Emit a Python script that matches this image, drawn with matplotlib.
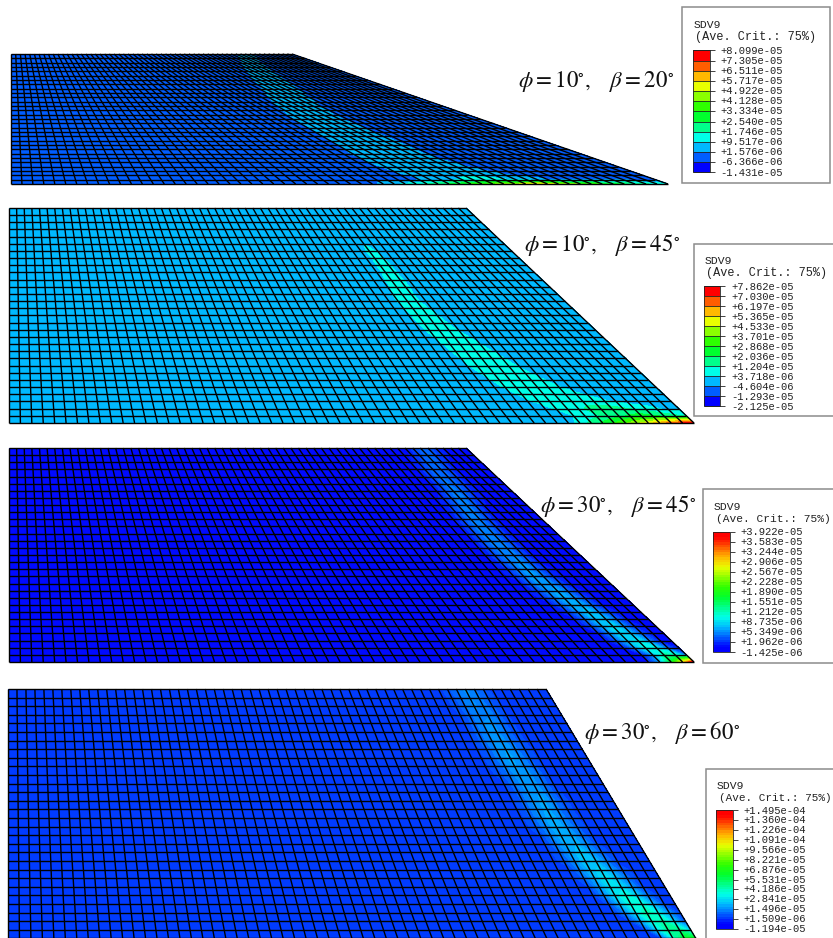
import numpy as np
import matplotlib
matplotlib.use("Agg")
import matplotlib.pyplot as plt
from matplotlib.colors import LinearSegmentedColormap, ListedColormap, BoundaryNorm
from matplotlib.collections import LineCollection
from matplotlib.patches import Rectangle

W, H = 833, 938
N_COL, N_ROW = 60, 30

contour_colors = ["#0000ff", "#005dff", "#00b9ff", "#00ffe8", "#00ff8b", "#00ff2e",
                  "#2eff00", "#8bff00", "#e8ff00", "#ffb900", "#ff5d00", "#ff0000"]

labels_1 = ["+8.099e-05", "+7.305e-05", "+6.511e-05", "+5.717e-05", "+4.922e-05", "+4.128e-05", "+3.334e-05",
            "+2.540e-05", "+1.746e-05", "+9.517e-06", "+1.576e-06", "-6.366e-06", "-1.431e-05"]
labels_2 = ["+7.862e-05", "+7.030e-05", "+6.197e-05", "+5.365e-05", "+4.533e-05", "+3.701e-05", "+2.868e-05",
            "+2.036e-05", "+1.204e-05", "+3.718e-06", "-4.604e-06", "-1.293e-05", "-2.125e-05"]
labels_3 = ["+3.922e-05", "+3.583e-05", "+3.244e-05", "+2.906e-05", "+2.567e-05", "+2.228e-05", "+1.890e-05",
            "+1.551e-05", "+1.212e-05", "+8.735e-06", "+5.349e-06", "+1.962e-06", "-1.425e-06"]
labels_4 = ["+1.495e-04", "+1.360e-04", "+1.226e-04", "+1.091e-04", "+9.566e-05", "+8.221e-05", "+6.876e-05",
            "+5.531e-05", "+4.186e-05", "+2.841e-05", "+1.496e-05", "+1.509e-06", "-1.194e-05"]

# Shear band read per mesh node row (top to bottom): column of the centre, half width in columns, peak SDV9
center_1 = [50, 48.5, 47, 46, 45, 44.2, 43.5, 43, 42.3, 41.6, 41, 40.5, 40, 39.7, 39.4, 39.4,
            39.4, 39.5, 39.6, 39.8, 39.8, 39.8, 39.8, 39.7, 40, 40.4, 40.9, 41.6, 42.6, 44.3, 48]
halfw_1 = [2.3, 2.4, 2.6, 2.8, 3, 3.2, 3.4, 3.5, 3.6, 3.7, 3.8, 3.8, 3.8, 3.8, 3.8, 3.9,
           4, 4.1, 4.3, 4.5, 4.6, 4.7, 4.8, 5, 5, 5.2, 5.4, 5.5, 5.8, 6.5, 15]
peak_1 = [5e-6, 5e-6, 5e-6, 5.5e-6, 5.5e-6, 6e-6, 6e-6, 6e-6, 6.5e-6, 6.5e-6, 7e-6, 7e-6, 7e-6, 7e-6, 7e-6, 7e-6,
          7e-6, 7e-6, 7e-6, 7e-6, 7e-6, 7e-6, 7e-6, 7e-6, 7.5e-6, 7.5e-6, 8e-6, 9e-6, 1e-5, 1.5e-5, 5.5e-5]

center_2 = [43, 43, 43, 43, 43, 43.5, 43.3, 43.4, 43.4, 43.4, 43.3, 43.4, 43.1, 43.1, 43.4, 43.7,
            43.9, 44.2, 44.7, 45.2, 45.6, 46.1, 46.5, 47.1, 47.8, 48.5, 49.6, 51, 53.5, 56, 60]
halfw_2 = [0, 0, 0, 0, 0, 1, 1.1, 1.2, 1.3, 1.4, 1.6, 1.7, 1.8, 1.9, 2, 2.2,
           2.4, 2.6, 2.8, 3, 3.2, 3.4, 3.6, 3.8, 4, 4.2, 4.6, 5.2, 6, 7, 11]
peak_2 = [0, 0, 0, 0, 0, 7e-6, 8e-6, 8e-6, 9e-6, 9e-6, 1e-5, 1e-5, 1e-5, 1e-5, 1e-5, 1e-5,
          1e-5, 1e-5, 1e-5, 1e-5, 1e-5, 1e-5, 1e-5, 1e-5, 1e-5, 1.05e-5, 1.1e-5, 1.2e-5, 1.8e-5, 2.5e-5, 7.9e-5]

center_3 = [54.4, 54.1, 53.8, 53.5, 53.4, 53.4, 53.3, 53.1, 52.8, 52.6, 52.5, 52.4, 52.4, 52.4, 52.5, 52.6,
            52.7, 52.9, 53.1, 53.4, 53.8, 54.2, 54.6, 55.1, 55.5, 55.9, 56.3, 56.7, 57.4, 58.4, 60]
halfw_3 = [2.4, 2.4, 2.4, 2.4, 2.4, 2.4, 2.4, 2.4, 2.4, 2.4, 2.4, 2.4, 2.4, 2.4, 2.4, 2.4,
           2.4, 2.4, 2.4, 2.4, 2.4, 2.4, 2.4, 2.4, 2.4, 2.4, 2.3, 2.2, 2.1, 2, 3.5]
peak_3 = [4.5e-6, 4.7e-6, 4.9e-6, 5.1e-6, 5.3e-6, 5.4e-6, 5.5e-6, 5.6e-6, 5.7e-6, 5.8e-6, 5.8e-6, 5.9e-6, 5.9e-6, 6e-6, 6.1e-6, 6.2e-6,
          6.3e-6, 6.5e-6, 6.8e-6, 7.1e-6, 7.4e-6, 7.7e-6, 8e-6, 8.5e-6, 9e-6, 9.5e-6, 1e-5, 1.1e-5, 1.3e-5, 1.6e-5, 3.9e-5]

center_4 = [51, 51.2, 51.3, 51.5, 51.6, 51.6, 51.7, 51.9, 52, 52.2, 52.4, 52.5, 52.7, 52.8, 52.8, 52.9,
            53.1, 53.4, 53.6, 54, 54.3, 54.7, 55.1, 55.5, 55.9, 56.5, 57.1, 57.7, 58.5, 59.5, 60]
halfw_4 = [2.8, 2.8, 2.8, 2.8, 2.8, 2.8, 2.8, 2.8, 2.8, 2.8, 2.8, 2.6, 2.6, 2.6, 2.6, 2.6,
           2.6, 2.6, 2.6, 2.6, 2.6, 2.6, 2.6, 2.6, 2.6, 2.6, 2.6, 2.4, 2.4, 2.4, 3]
peak_4 = [1.6e-5, 1.6e-5, 1.7e-5, 1.7e-5, 1.8e-5, 1.8e-5, 1.9e-5, 1.9e-5, 2e-5, 2e-5, 2e-5, 2e-5, 2e-5, 2.1e-5, 2.1e-5, 2.2e-5,
          2.3e-5, 2.4e-5, 2.5e-5, 2.6e-5, 2.8e-5, 3e-5, 3.2e-5, 3.5e-5, 4e-5, 4.5e-5, 4.8e-5, 5e-5, 6e-5, 8e-5, 1.4e-4]

background = [0.0, 0.0, 8e-7, 3.5e-6]

panels = [
    dict(left=11, top=54, bottom=184, rtop=292, rbot=668, labels=labels_1, c=center_1, h=halfw_1, p=peak_1, bg=background[0], smooth=False,
         note=r"$\phi=10^{\circ},\quad\beta=20^{\circ}$", note_xy=(596, 81), crit_fs=8.6,
         box=(682.5, 7.5, 830, 183), bar=(693, 710, 50.5, 172.5), label_x=720, title_xy=(694, 25), crit_xy=(695, 37)),
    dict(left=9, top=208, bottom=423, rtop=466, rbot=694, labels=labels_2, c=center_2, h=halfw_2, p=peak_2, bg=background[1], smooth=False,
         note=r"$\phi=10^{\circ},\quad\beta=45^{\circ}$", note_xy=(602, 245), crit_fs=8.6,
         box=(693.7, 244, 840, 416), bar=(704, 720.5, 286.5, 406.5), label_x=731, title_xy=(705, 261), crit_xy=(706, 273)),
    dict(left=9, top=448, bottom=662, rtop=466, rbot=694, labels=labels_3, c=center_3, h=halfw_3, p=peak_3, bg=background[2], smooth=True,
         note=r"$\phi=30^{\circ},\quad\beta=45^{\circ}$", note_xy=(618, 506), crit_fs=8.1,
         box=(702.7, 489.3, 840, 662.7), bar=(713, 730, 532, 652.5), label_x=740, title_xy=(714, 507), crit_xy=(716, 519)),
    dict(left=8, top=689, bottom=947, rtop=546, rbot=701, labels=labels_4, c=center_4, h=halfw_4, p=peak_4, bg=background[3], smooth=True,
         note=r"$\phi=30^{\circ},\quad\beta=60^{\circ}$", note_xy=(662, 733), crit_fs=7.9,
         box=(705.7, 769, 840, 950), bar=(716, 733, 810.5, 929), label_x=743, title_xy=(717, 786), crit_xy=(719, 798)),
]

plt.rcParams["mathtext.fontset"] = "stix"
fig = plt.figure(figsize=(W / 100, H / 100), dpi=100)
ax = fig.add_axes([0, 0, 1, 1])
ax.set_xlim(0, W)
ax.set_ylim(H, 0)
ax.axis("off")

pos = [0] + [(i + 0.5) / 12 for i in range(12)] + [1]
smooth_cmap = LinearSegmentedColormap.from_list(
    "abq", list(zip(pos, [contour_colors[0]] + contour_colors + [contour_colors[-1]])), N=256)

for P in panels:
    vals = np.array([float(s) for s in P["labels"]])[::-1]
    if P["smooth"]:
        n = 48
        levels = np.interp(np.linspace(0, 12, n + 1), np.arange(13), vals)
        colors = [smooth_cmap((i + 0.5) / n) for i in range(n)]
    else:
        levels = vals
        colors = contour_colors
    # Mesh nodes
    v = np.linspace(0, 1, N_ROW + 1)
    u = np.linspace(0, 1, N_COL + 1)
    y = P["top"] + v * (P["bottom"] - P["top"])
    right = P["rtop"] + v * (P["rbot"] - P["rtop"])
    X = P["left"] + np.outer(right - P["left"], u)
    Y = np.repeat(y[:, None], N_COL + 1, axis=1)
    col = np.arange(N_COL + 1)
    Z = np.full(X.shape, P["bg"], float)
    for r in range(N_ROW + 1):
        if P["h"][r] > 0:
            Z[r] = P["bg"] + (P["p"][r] - P["bg"]) * np.clip(1 - np.abs(col - P["c"][r]) / P["h"][r], 0, 1)
    ax.contourf(X, Y, Z, levels=levels, colors=colors, extend="neither", antialiased=False)
    segs = [np.column_stack([X[r], Y[r]]) for r in range(N_ROW + 1)]
    segs += [np.column_stack([X[:, c], Y[:, c]]) for c in range(N_COL + 1)]
    ax.add_collection(LineCollection(segs, colors="#000000", linewidths=1.0, antialiased=True))
    ax.text(P["note_xy"][0], P["note_xy"][1], P["note"], fontsize=16.5, ha="center", va="center", color="#111111")

    # Legend box
    x0, y0, x1, y1 = P["box"]
    ax.add_patch(Rectangle((x0, y0), x1 - x0, y1 - y0, fc="white", ec="#8c8c8c", lw=1.1, zorder=5))
    ax.text(*P["title_xy"], "SDV9", family="Liberation Mono", fontsize=8.2, va="center", color="#222222", zorder=6)
    ax.text(*P["crit_xy"], "(Ave. Crit.: 75%)", family="Liberation Mono", fontsize=P["crit_fs"], va="center", color="#222222", zorder=6)
    bx0, bx1, by0, by1 = P["bar"]
    ticks = np.linspace(by0, by1, 13)
    if P["smooth"]:
        fine = np.linspace(by0, by1, 49)
        vfine = levels[::-1]
        ax.pcolormesh([bx0, bx1], fine, ((vfine[:-1] + vfine[1:]) / 2)[:, None],
                      cmap=ListedColormap(colors), norm=BoundaryNorm(levels, 48), zorder=6)
    else:
        ax.pcolormesh([bx0, bx1], ticks, ((vals[::-1][:-1] + vals[::-1][1:]) / 2)[:, None],
                      cmap=ListedColormap(colors), norm=BoundaryNorm(levels, 12), zorder=6)
    ax.add_patch(Rectangle((bx0, by0), bx1 - bx0, by1 - by0, fc="none", ec="#222222", lw=0.6, zorder=7))
    xstart = bx0 if not P["smooth"] else bx1
    for t, lab in zip(ticks, P["labels"]):
        ax.plot([xstart, bx1 + 5], [t, t], color="#222222", lw=0.6, zorder=7, solid_capstyle="butt")
        ax.text(P["label_x"], t, lab, family="Liberation Mono", fontsize=7.6, va="center", color="#222222", zorder=7)

fig.savefig("out.png", dpi=100)
